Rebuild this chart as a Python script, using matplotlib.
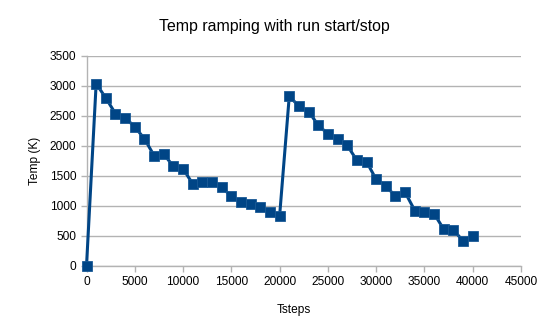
import matplotlib
matplotlib.use("Agg")
import matplotlib.pyplot as plt

tsteps = [0, 1000, 2000, 3000, 4000, 5000, 6000, 7000, 8000, 9000, 10000,
          11000, 12000, 13000, 14000, 15000, 16000, 17000, 18000, 19000, 20000,
          21000, 22000, 23000, 24000, 25000, 26000, 27000, 28000, 29000, 30000,
          31000, 32000, 33000, 34000, 35000, 36000, 37000, 38000, 39000, 40000]
temps = [0, 3040, 2800, 2540, 2470, 2320, 2120, 1840, 1865, 1660, 1620,
         1370, 1392, 1392, 1315, 1160, 1065, 1030, 987, 897, 836,
         2830, 2664, 2575, 2347, 2202, 2124, 2012, 1761, 1739, 1444,
         1338, 1159, 1226, 925, 892, 870, 613, 602, 418, 507]
xticks = [0, 5000, 10000, 15000, 20000, 25000, 30000, 35000, 40000, 45000]
yticks = [0, 500, 1000, 1500, 2000, 2500, 3000, 3500]

plt.rcParams['font.family'] = ['Liberation Sans', 'DejaVu Sans']

fig = plt.figure(figsize=(5.49, 3.35), dpi=100)
ax = fig.add_axes([86.5/549, 1 - 266/335, (521-86.5)/549, (266-56)/335])

ax.plot(tsteps, temps, color='#004586', linewidth=2.2, marker='s',
        markersize=7.8, markerfacecolor='#004586', markeredgecolor='#1a5a96',
        markeredgewidth=0.6, zorder=3, clip_on=False)

ax.set_xlim(0, 45000)
ax.set_ylim(0, 3500)
ax.set_xticks(xticks)
ax.set_yticks(yticks)
ax.set_xticklabels([str(v) for v in xticks])
ax.set_yticklabels([str(v) for v in yticks])
ax.grid(axis='y', color='#b3b3b3', linewidth=1)
ax.set_axisbelow(True)
for s in ['top', 'right']:
    ax.spines[s].set_visible(False)
for s in ['left', 'bottom']:
    ax.spines[s].set_color('#b3b3b3')
    ax.spines[s].set_linewidth(1)
ax.tick_params(axis='both', colors='#b3b3b3', labelcolor='black',
               labelsize=8.6, length=4, width=1, direction='out')

fig.text(274.5/549, 1 - 26/335, 'Temp ramping with run start/stop',
         ha='center', va='center', fontsize=11.4)
fig.text(294/549, 1 - 310/335, 'Tsteps', ha='center', va='center', fontsize=8.6)
fig.text(35/549, 1 - 161/335, 'Temp (K)', ha='center', va='center',
         rotation=90, fontsize=8.6)

fig.savefig('out.png', dpi=100)
